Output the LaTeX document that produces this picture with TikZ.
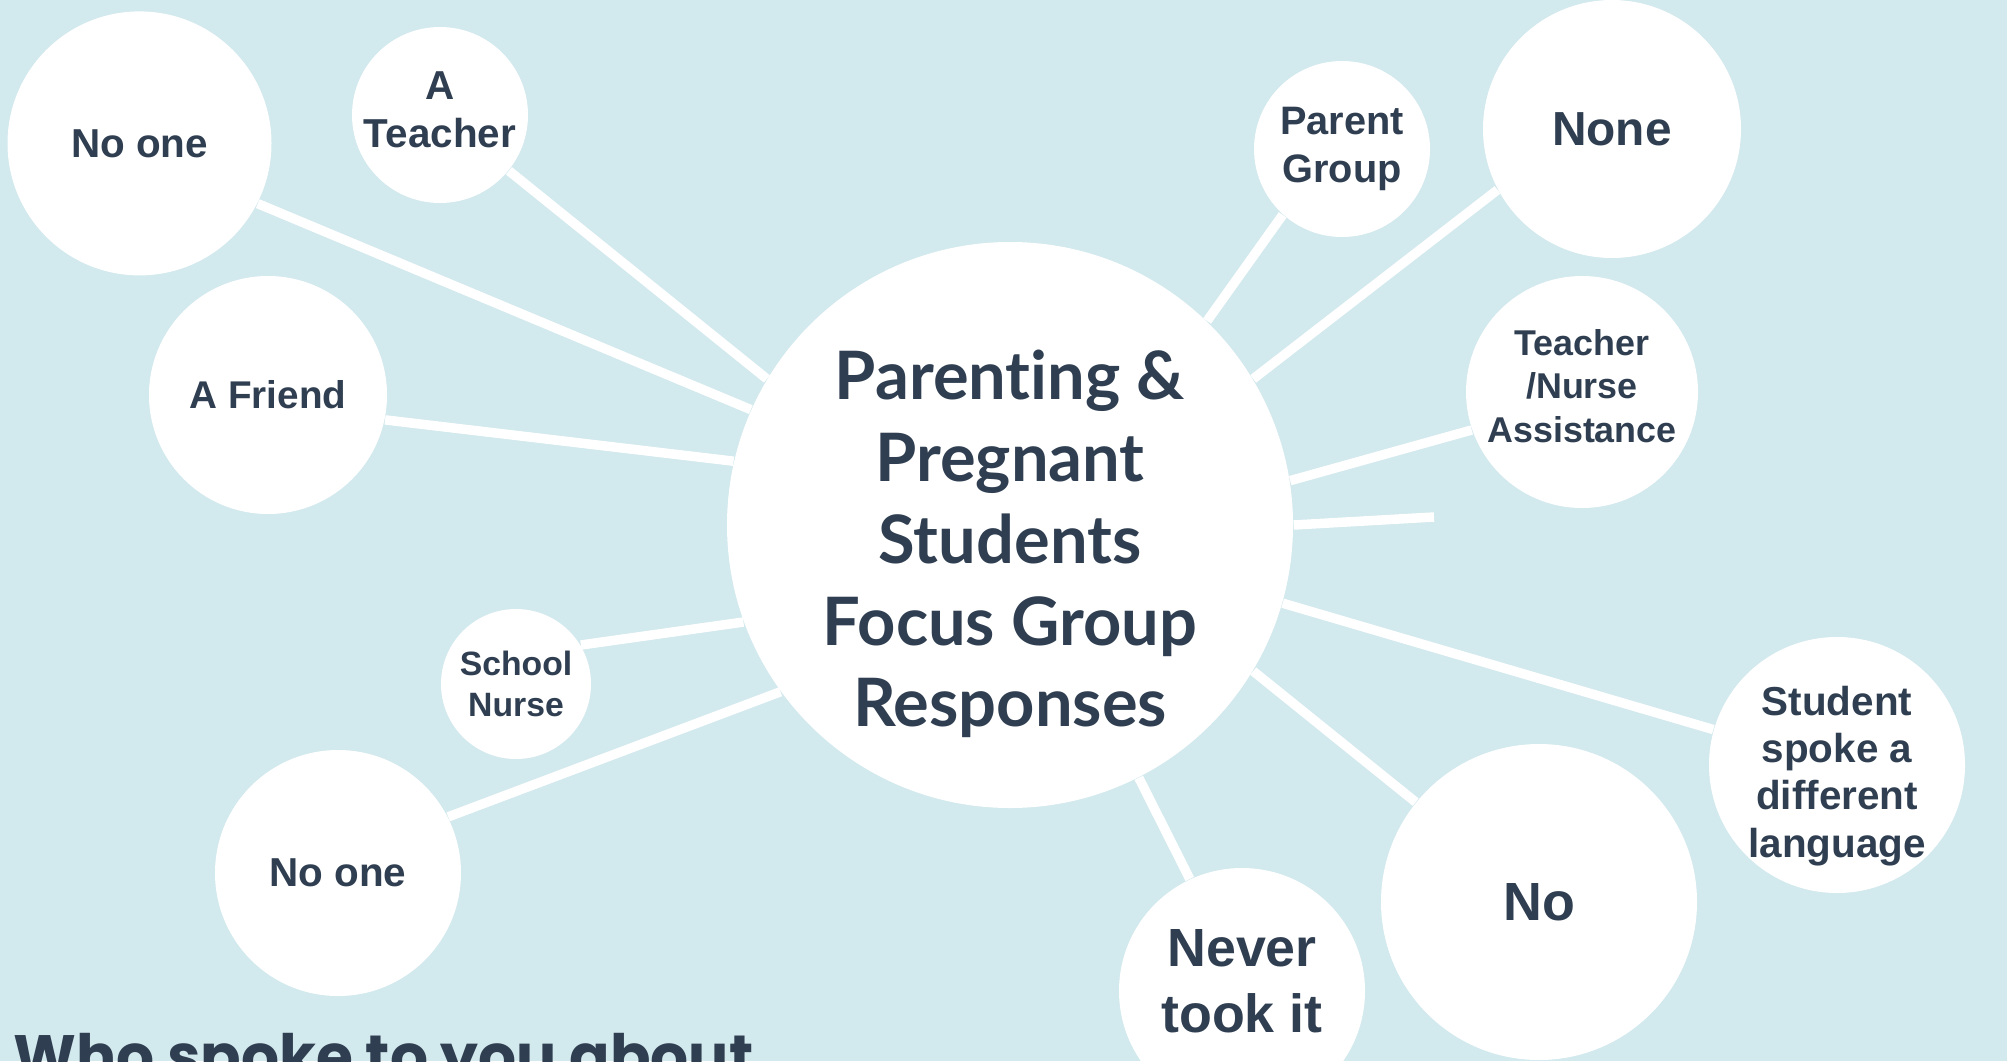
\documentclass[tikz,border=0pt]{standalone}
\usepackage{fontspec}
\setmainfont{Liberation Sans}
\newfontfamily\hubfont{Lato}[Ligatures=NoCommon]
\newfontfamily\titlefont{Poppins}
\definecolor{bgblue}{RGB}{210,233,237}
\definecolor{ink}{RGB}{47,62,80}

\begin{document}
\begin{tikzpicture}[
    bubble/.style={circle, fill=white, inner sep=0pt, align=center, text=ink},
    words/.style={inner sep=0pt, align=center, text=ink},
    spoke/.style={white, line width=2.7pt}]
      \clip (0,0) rectangle (20.07,10.61);
      \fill[bgblue] (0,0) rectangle (20.07,10.61);
      \node[bubble, minimum size=5.66cm] (hub) at (10.10,5.36) {};
      \node[words, font={\hubfont\bfseries\fontsize{19}{23.3}\selectfont}] (hubtext) at ([yshift=-0.19cm]hub.center) {Parenting \&\\Pregnant\\Students\\Focus Group\\Responses};
      \node[bubble, minimum size=2.64cm, font={\bfseries\fontsize{11.5}{13.5}\selectfont}] (noone) at (1.395,9.176) {No one};
      \node[bubble, minimum size=1.76cm] (teacher) at (4.40,9.46) {};
      \node[words, font={\bfseries\fontsize{11.5}{13.5}\selectfont}] (teachertext) at ([yshift=0.05cm]teacher.center) {A\\Teacher};
      \node[bubble, minimum size=2.38cm, font={\bfseries\fontsize{11}{13}\selectfont}] (friend) at (2.68,6.66) {A Friend};
      \node[bubble, minimum size=1.50cm, font={\bfseries\fontsize{9.6}{11.6}\selectfont}] (nurse) at (5.16,3.77) {School\\Nurse};
      \node[bubble, minimum size=2.46cm, font={\bfseries\fontsize{11.5}{13.5}\selectfont}] (nooneb) at (3.38,1.88) {No one};
      \node[bubble, minimum size=1.76cm, font={\bfseries\fontsize{11.3}{13.4}\selectfont}] (parents) at (13.42,9.12) {Parent\\Group};
      \node[bubble, minimum size=2.58cm, font={\bfseries\fontsize{13.6}{16}\selectfont}] (none) at (16.12,9.32) {None};
      \node[bubble, minimum size=2.32cm] (staff) at (15.82,6.69) {};
      \node[words, font={\bfseries\fontsize{10.2}{12.3}\selectfont}] (stafftext) at ([yshift=0.06cm]staff.center) {Teacher\\/Nurse\\Assistance};
      \node[bubble, minimum size=2.56cm] (language) at (18.37,2.96) {};
      \node[words, font={\bfseries\fontsize{11.5}{13.4}\selectfont}] (languagetext) at ([yshift=-0.11cm]language.center) {Student\\spoke a\\different\\language};
      \node[bubble, minimum size=3.16cm, font={\bfseries\fontsize{15.3}{18}\selectfont}] (no) at (15.39,1.59) {No};
      \node[bubble, minimum size=2.46cm] (never) at (12.42,0.70) {};
      \node[words, font={\bfseries\fontsize{15.3}{18.8}\selectfont}] (nevertext) at ([yshift=0.10cm]never.center) {Never\\took it};
      \coordinate (loose) at (14.34,5.44);
      \draw[spoke] (noone.-27.5) -- (hub.156.3);
      \draw[spoke] (teacher.-39) -- (hub.149.2);
      \draw[spoke] (friend.-12.2) -- (hub.167.1);
      \draw[spoke] (nurse.31.3) -- (hub.200);
      \draw[spoke] (nooneb.27) -- (hub.216);
      \draw[spoke] (parents.228.7) -- (hub.46.1);
      \draw[spoke] (none.208.9) -- (hub.31.1);
      \draw[spoke] (staff.199) -- (hub.9.1);
      \draw[spoke] (hub.0) -- (loose);
      \draw[spoke] (language.164.4) -- (hub.-16.1);
      \draw[spoke] (no.141.5) -- (hub.-31.1);
      \draw[spoke] (never.115.3) -- (hub.-63.9);
      \node[anchor=base west, inner sep=0pt, text=ink, font={\titlefont\bfseries\fontsize{17}{21}\selectfont}] (question) at (0.13,-0.16) {Who spoke to you about};
\end{tikzpicture}
\end{document}
